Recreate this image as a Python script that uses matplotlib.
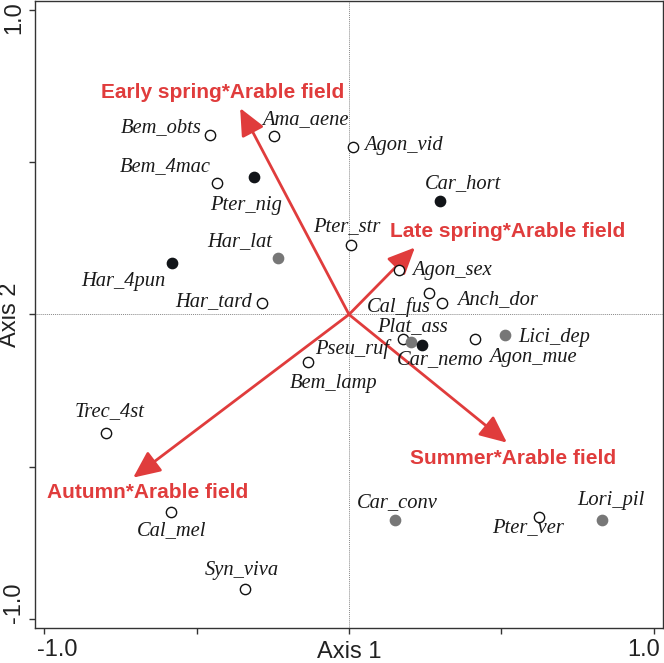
import matplotlib
matplotlib.use('Agg')
import matplotlib.pyplot as plt
import matplotlib.transforms as mtransforms

# species scores (Axis 1, Axis 2)
species = ['Bem_obts', 'Ama_aene', 'Bem_4mac', 'Pter_nig', 'Har_lat', 'Har_4pun',
           'Har_tard', 'Agon_vid', 'Car_hort', 'Pter_str', 'Agon_sex', 'Cal_fus',
           'Anch_dor', 'Plat_ass', 'Pseu_ruf', 'Car_nemo', 'Bem_lamp', 'Agon_mue',
           'Lici_dep', 'Trec_4st', 'Cal_mel', 'Syn_viva', 'Car_conv', 'Pter_ver',
           'Lori_pil']
axis1 = [-0.456, -0.246, -0.433, -0.311, -0.233, -0.580, -0.285, 0.013, 0.298,
         0.007, 0.164, 0.262, 0.305, 0.177, 0.203, 0.239, -0.134, 0.413, 0.511,
         -0.797, -0.584, -0.341, 0.151, 0.623, 0.830]
axis2 = [0.589, 0.586, 0.431, 0.451, 0.184, 0.168, 0.039, 0.549, 0.372, 0.227,
         0.145, 0.072, 0.039, -0.082, -0.089, -0.099, -0.155, -0.082, -0.066,
         -0.388, -0.648, -0.901, -0.674, -0.664, -0.674]
# group: o = open, b = black, g = grey
group = ['o', 'o', 'o', 'b', 'g', 'b', 'o', 'o', 'b', 'o', 'o', 'o', 'o', 'o',
         'g', 'b', 'o', 'o', 'g', 'o', 'o', 'o', 'g', 'o', 'g']

# environmental arrows
env_names = ['Early spring*Arable field', 'Late spring*Arable field',
             'Autumn*Arable field', 'Summer*Arable field']
env_x = [-0.357, 0.216, -0.708, 0.518]
env_y = [0.678, 0.220, -0.536, -0.421]

# label offsets in pixels (dx, dy) from each point
sp_off = [(-49, 8), (31, 17), (-52, 17), (-8, -28), (-38, 17), (-49, -18),
          (-49, 1), (50, 2), (23, 18), (-4, 19), (53, 0), (-30, -14), (56, 3),
          (10, 13), (-59, -7), (18, -15), (25, -22), (58, -18), (49, -3),
          (4, 21), (1, -19), (-3, 18), (2, 17), (-11, -11), (9, 19)]
env_off = [(-18, 16), (93, 16), (14, -15), (6, -16)]

red = '#e03c3c'
face = {'o': 'white', 'b': '#111418', 'g': '#777777'}
edge = {'o': '#111111', 'b': '#111418', 'g': '#777777'}

fig = plt.figure(figsize=(6.64, 6.63), dpi=100)
ax = fig.add_axes([0.0527, 0.0528, 0.9458, 0.9457])
ax.set_xlim(-1.03, 1.03)
ax.set_ylim(-1.03, 1.03)

ax.axhline(0, color='#888888', lw=0.7, ls=(0, (1, 1)), zorder=1)
ax.axvline(0, color='#888888', lw=0.7, ls=(0, (1, 1)), zorder=1)

for nm, tx, ty, (dx, dy) in zip(env_names, env_x, env_y, env_off):
    ax.annotate('', xy=(tx, ty), xytext=(0, 0),
                arrowprops=dict(arrowstyle='-|>,head_length=1.1,head_width=0.5',
                                mutation_scale=15, color=red, lw=2.0,
                                shrinkA=0, shrinkB=0), zorder=2)
    ax.annotate(nm, xy=(tx, ty), xytext=(dx * 0.72, dy * 0.72),
                textcoords='offset points', ha='center', va='center',
                color=red, fontsize=15, fontweight='bold',
                family='Liberation Sans', zorder=4)

for g in ['o', 'g', 'b']:
    xs = [x for x, gg in zip(axis1, group) if gg == g]
    ys = [y for y, gg in zip(axis2, group) if gg == g]
    ax.scatter(xs, ys, s=55, facecolor=face[g], edgecolor=edge[g],
               linewidth=1.0, zorder=3)

for nm, x, y, (dx, dy) in zip(species, axis1, axis2, sp_off):
    ax.annotate(nm, xy=(x, y), xytext=(dx * 0.72, dy * 0.72),
                textcoords='offset points', ha='center', va='center',
                fontsize=14.8, style='italic', family='Liberation Serif',
                color='#1a1a1a', zorder=4)

ticks = [-1.0, -0.5, 0, 0.5, 1.0]
ticklabels = ['-1.0', '', '', '', '1.0']
ax.set_xticks(ticks)
ax.set_xticklabels(ticklabels)
ax.set_yticks(ticks)
ax.set_yticklabels(ticklabels, rotation=90, va='center')
ax.tick_params(direction='out', length=4, width=1, color='#333333',
               labelsize=17, labelcolor='#222222')
ax.tick_params(axis='x', pad=4)
ax.tick_params(axis='y', pad=3)
for lab in ax.get_xticklabels() + ax.get_yticklabels():
    lab.set_family('Liberation Sans')

# nudge end labels inward like the original
xl = ax.get_xticklabels()
yl = ax.get_yticklabels()
nudges = [(xl[0], 13, 0), (xl[-1], -10, 0), (yl[0], 0, 16), (yl[-1], 0, -7)]
for lab, dx, dy in nudges:
    off = mtransforms.ScaledTranslation(dx / 100, dy / 100, fig.dpi_scale_trans)
    lab.set_transform(lab.get_transform() + off)

ax.set_xlabel('Axis 1', fontsize=17, family='Liberation Sans', color='#222222')
ax.set_ylabel('Axis 2', fontsize=17, family='Liberation Sans', color='#222222')
ax.xaxis.set_label_coords(0.5, -0.02)
ax.yaxis.set_label_coords(-0.022, 0.5)

for sp in ax.spines.values():
    sp.set_color('#333333')
    sp.set_linewidth(1.0)

fig.savefig('out.png', dpi=100)
